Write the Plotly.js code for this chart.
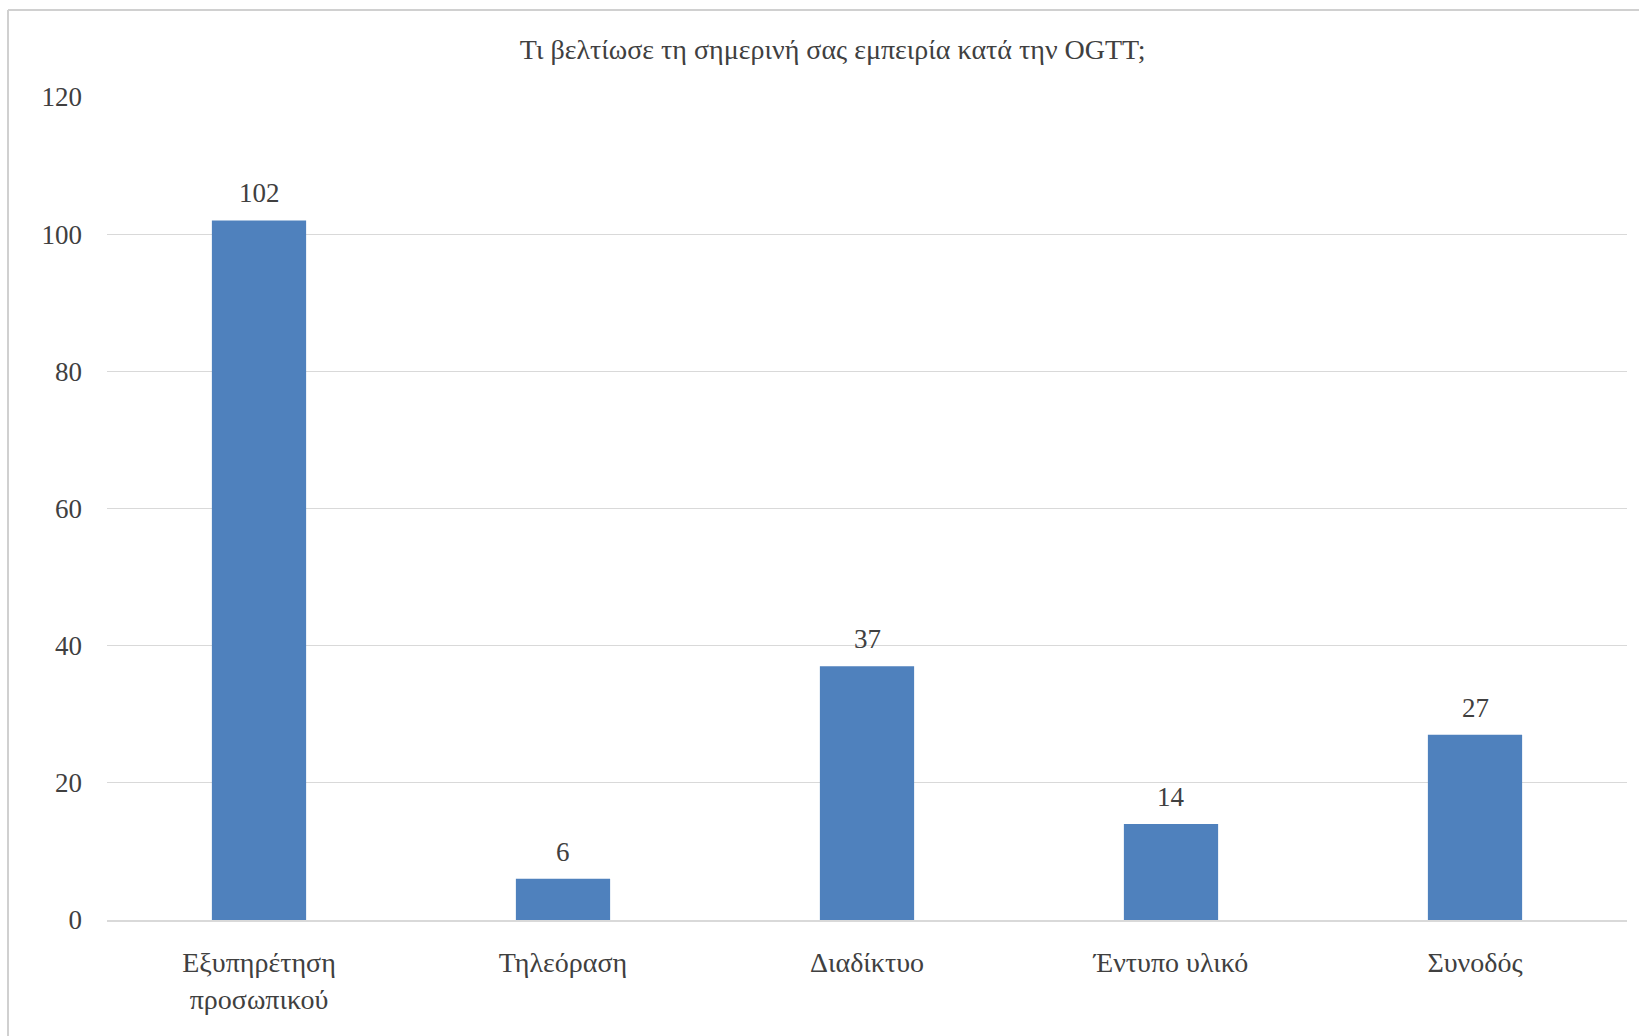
<!DOCTYPE html>
<html>
<head>
<meta charset="utf-8">
<script src="https://cdn.plot.ly/plotly-3.0.1.min.js"></script>
<style>html,body{margin:0;padding:0;background:#fff;}#chart{width:1639px;height:1036px;}</style>
</head>
<body>
<div id="chart"></div>
<script>
const categories = ["Εξυπηρέτηση<br>προσωπικού", "Τηλεόραση", "Διαδίκτυο", "Έντυπο υλικό", "Συνοδός"];
const counts = [102, 6, 37, 14, 27];
const yTicks = [0, 20, 40, 60, 80, 100, 120];
const chartTitle = "Τι βελτίωσε τη σημερινή σας εμπειρία κατά την OGTT;";

const FONT = "Liberation Serif, Times New Roman, serif";
const TXT = "#404040";

const trace = {
  type: "bar",
  x: categories,
  y: counts,
  marker: { color: "#4F81BD" },
  hoverinfo: "x+y",
  showlegend: false
};

const annotations = categories.map((c, i) => ({
  x: c, y: counts[i], xref: "x", yref: "y",
  text: String(counts[i]), showarrow: false,
  yanchor: "bottom", yshift: 10,
  font: { family: FONT, size: 27, color: TXT }
}));

const layout = {
  width: 1639, height: 1036,
  margin: { l: 107, r: 12, t: 97, b: 116 },
  paper_bgcolor: "#ffffff", plot_bgcolor: "#ffffff",
  font: { family: FONT, size: 27, color: TXT },
  title: {
    text: chartTitle,
    font: { family: FONT, size: 28, color: TXT },
    x: 0.508, xref: "container", xanchor: "center",
    y: 1 - 49 / 1036, yref: "container", yanchor: "middle"
  },
  bargap: 0.69,
  xaxis: {
    type: "category",
    showgrid: false,
    showline: true, linecolor: "#D9D9D9", linewidth: 1.5,
    ticks: "", ticklabelstandoff: 17,
    tickfont: { family: FONT, size: 28, color: TXT },
    fixedrange: true
  },
  yaxis: {
    range: [0, 120],
    tickvals: yTicks,
    ticktext: yTicks.map(String),
    showgrid: true, gridcolor: "#D9D9D9", gridwidth: 1.2,
    zeroline: false, showline: false,
    ticks: "", ticklabelstandoff: 24,
    tickfont: { family: FONT, size: 27, color: TXT },
    fixedrange: true
  },
  annotations: annotations,
  shapes: [
    { type: "line", xref: "paper", yref: "paper",
      x0: (8 - 107) / 1520, x1: (8 - 107) / 1520, y0: (920 - 10) / 823, y1: (920 - 1040) / 823,
      line: { color: "#D0D0D0", width: 2 } },
    { type: "line", xref: "paper", yref: "paper",
      x0: (8 - 107) / 1520, x1: (1645 - 107) / 1520, y0: (920 - 10) / 823, y1: (920 - 10) / 823,
      line: { color: "#D0D0D0", width: 2 } }
  ]
};

Plotly.newPlot("chart", [trace], layout, { displayModeBar: false, staticPlot: true });
</script>
</body>
</html>
